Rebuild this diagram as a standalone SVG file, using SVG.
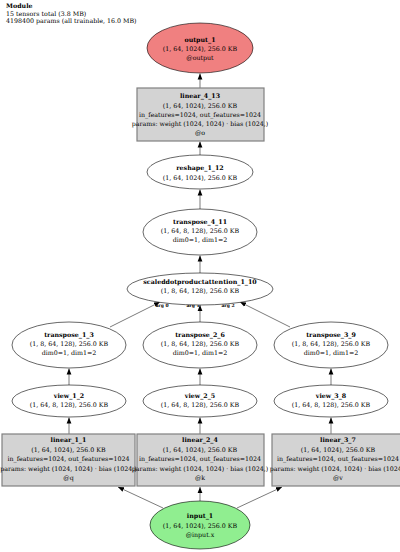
<svg xmlns="http://www.w3.org/2000/svg" width="400" height="552" viewBox="0 0 400 552">
<style>
text{font-family:"DejaVu Serif","Liberation Serif",serif;font-size:6.3px;fill:#000;text-anchor:middle}
.b{font-weight:bold}
.h{text-anchor:start}
.lbl{font-size:4.5px}
.ell{fill:#fff;stroke:#000;stroke-width:0.6}
.box{fill:#d3d3d3;stroke:#808080;stroke-width:1.2}
.edge{stroke:#444;stroke-width:0.7;fill:none;marker-end:url(#ah)}
</style>
<defs>
<marker id="ah" viewBox="0 0 10 10" refX="10" refY="5" markerWidth="6" markerHeight="6" markerUnits="userSpaceOnUse" orient="auto">
<path d="M0,1 L10,5 L0,9 Z" fill="#000"/>
</marker>
</defs>
<rect width="400" height="552" fill="#fff"/>
<g id="header">
<text class="h b" x="6" y="8">Module</text>
<text class="h" x="6" y="15.5">15 tensors total (3.8 MB)</text>
<text class="h" x="6" y="23">4198400 params (all trainable, 16.0 MB)</text>
</g>
<g id="connectors">
<line class="edge" x1="200" y1="88" x2="200" y2="73.5"/>
<line class="edge" x1="200" y1="155" x2="200" y2="141.5"/>
<line class="edge" x1="200" y1="209" x2="200" y2="189.5"/>
<line class="edge" x1="200" y1="273" x2="200" y2="255.5"/>
<line class="edge" x1="110" y1="327" x2="160" y2="302"/>
<line class="edge" x1="200" y1="322" x2="200" y2="305"/>
<line class="edge" x1="290" y1="327" x2="240" y2="302"/>
<line class="edge" x1="69" y1="386" x2="69" y2="368.5"/>
<line class="edge" x1="200" y1="386" x2="200" y2="368.5"/>
<line class="edge" x1="331" y1="386" x2="331" y2="368.5"/>
<line class="edge" x1="69" y1="434" x2="69" y2="417.5"/>
<line class="edge" x1="200" y1="434" x2="200" y2="417.5"/>
<line class="edge" x1="331" y1="434" x2="331" y2="417.5"/>
<line class="edge" x1="163" y1="508" x2="118" y2="487"/>
<line class="edge" x1="200" y1="502" x2="200" y2="487"/>
<line class="edge" x1="237" y1="508" x2="282" y2="487"/>
<text class="lbl b" x="162" y="307">arg 0</text>
<text class="lbl b" x="193" y="307">arg 1</text>
<text class="lbl b" x="228" y="307">arg 2</text>
</g>
<g id="output_1">
<ellipse cx="200" cy="48" rx="53" ry="25" fill="#f08080" stroke="#000" stroke-width="0.6"/>
<text class="b" x="200" y="42">output_1</text>
<text x="200" y="51">(1, 64, 1024), 256.0 KB</text>
<text x="200" y="60">@output</text>
</g>
<g id="linear_4_13">
<rect class="box" x="137" y="88" width="127" height="53"/>
<text class="b" x="200" y="98">linear_4_13</text>
<text x="200" y="107.5">(1, 64, 1024), 256.0 KB</text>
<text x="200" y="117">in_features=1024, out_features=1024</text>
<text x="200" y="126">params: weight (1024, 1024) · bias (1024,)</text>
<text x="200" y="135">@o</text>
</g>
<g id="reshape_1_12">
<ellipse class="ell" cx="200" cy="172" rx="53" ry="17"/>
<text class="b" x="200" y="170">reshape_1_12</text>
<text x="200" y="179.5">(1, 64, 1024), 256.0 KB</text>
</g>
<g id="transpose_4_11">
<ellipse class="ell" cx="200" cy="232" rx="57" ry="23"/>
<text class="b" x="200" y="224">transpose_4_11</text>
<text x="200" y="233">(1, 64, 8, 128), 256.0 KB</text>
<text x="200" y="242">dim0=1, dim1=2</text>
</g>
<g id="scaleddotproductattention_1_10">
<ellipse class="ell" cx="200" cy="289" rx="73" ry="16"/>
<text class="b" x="200" y="284">scaleddotproductattention_1_10</text>
<text x="200" y="293">(1, 8, 64, 128), 256.0 KB</text>
</g>
<g id="transpose_1_3">
<ellipse class="ell" cx="69" cy="345" rx="57" ry="23"/>
<text class="b" x="69" y="337">transpose_1_3</text>
<text x="69" y="346">(1, 8, 64, 128), 256.0 KB</text>
<text x="69" y="355">dim0=1, dim1=2</text>
</g>
<g id="transpose_2_6">
<ellipse class="ell" cx="200" cy="345" rx="57" ry="23"/>
<text class="b" x="200" y="337">transpose_2_6</text>
<text x="200" y="346">(1, 8, 64, 128), 256.0 KB</text>
<text x="200" y="355">dim0=1, dim1=2</text>
</g>
<g id="transpose_3_9">
<ellipse class="ell" cx="331" cy="345" rx="57" ry="23"/>
<text class="b" x="331" y="337">transpose_3_9</text>
<text x="331" y="346">(1, 8, 64, 128), 256.0 KB</text>
<text x="331" y="355">dim0=1, dim1=2</text>
</g>
<g id="view_1_2">
<ellipse class="ell" cx="69" cy="401" rx="57" ry="16"/>
<text class="b" x="69" y="398">view_1_2</text>
<text x="69" y="407">(1, 64, 8, 128), 256.0 KB</text>
</g>
<g id="view_2_5">
<ellipse class="ell" cx="200" cy="401" rx="57" ry="16"/>
<text class="b" x="200" y="398">view_2_5</text>
<text x="200" y="407">(1, 64, 8, 128), 256.0 KB</text>
</g>
<g id="view_3_8">
<ellipse class="ell" cx="331" cy="401" rx="57" ry="16"/>
<text class="b" x="331" y="398">view_3_8</text>
<text x="331" y="407">(1, 64, 8, 128), 256.0 KB</text>
</g>
<g id="linear_1_1">
<rect class="box" x="2" y="434" width="133" height="52"/>
<text class="b" x="68.5" y="442">linear_1_1</text>
<text x="68.5" y="451.5">(1, 64, 1024), 256.0 KB</text>
<text x="68.5" y="461">in_features=1024, out_features=1024</text>
<text x="68.5" y="470.5">params: weight (1024, 1024) · bias (1024,)</text>
<text x="68.5" y="480">@q</text>
</g>
<g id="linear_2_4">
<rect class="box" x="137" y="434" width="127" height="52"/>
<text class="b" x="200" y="442">linear_2_4</text>
<text x="200" y="451.5">(1, 64, 1024), 256.0 KB</text>
<text x="200" y="461">in_features=1024, out_features=1024</text>
<text x="200" y="470.5">params: weight (1024, 1024) · bias (1024,)</text>
<text x="200" y="480">@k</text>
</g>
<g id="linear_3_7">
<rect class="box" x="272" y="434" width="133" height="52"/>
<text class="b" x="338" y="442">linear_3_7</text>
<text x="338" y="451.5">(1, 64, 1024), 256.0 KB</text>
<text x="338" y="461">in_features=1024, out_features=1024</text>
<text x="338" y="470.5">params: weight (1024, 1024) · bias (1024,)</text>
<text x="338" y="480">@v</text>
</g>
<g id="input_1">
<ellipse cx="200" cy="525" rx="50" ry="24" fill="#90ee90" stroke="#000" stroke-width="0.6"/>
<text class="b" x="200" y="518">input_1</text>
<text x="200" y="527.5">(1, 64, 1024), 256.0 KB</text>
<text x="200" y="537">@input.x</text>
</g>
</svg>
